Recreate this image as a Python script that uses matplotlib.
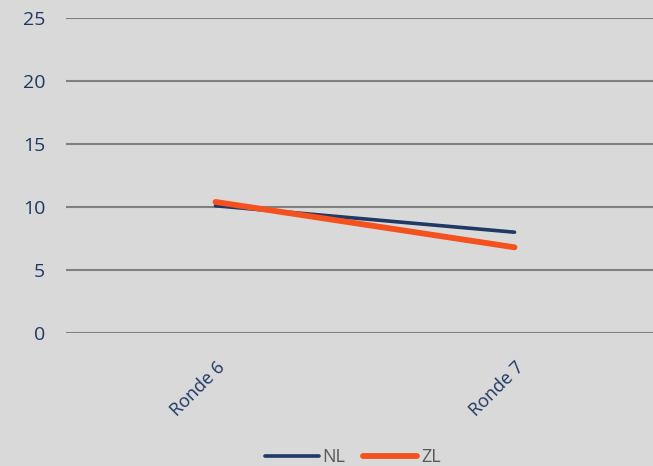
import matplotlib.pyplot as plt

categories = ['Ronde 6', 'Ronde 7']
nl = [10.1, 8.0]
zl = [10.4, 6.8]
yticks = [0, 5, 10, 15, 20, 25]

plt.rcParams['font.family'] = ['Open Sans', 'DejaVu Sans']

bg = '#d9d9d9'
navy = '#1f3864'
orange = '#f4511e'

fig = plt.figure(figsize=(6.53, 4.66), dpi=100, facecolor=bg)
ax = fig.add_axes([66/653, 133/466, 598/653, (333-18)/466])
ax.set_facecolor(bg)

x = range(len(categories))
ax.plot(x, nl, color=navy, lw=2.6, solid_capstyle='round', label='NL', zorder=3)
ax.plot(x, zl, color=orange, lw=4.2, solid_capstyle='round', label='ZL', zorder=4)

ax.set_xlim(-0.5, 1.5)
ax.set_ylim(0, 25)
ax.set_yticks(yticks)
ax.set_xticks(list(x))
ax.set_xticklabels(categories, rotation=45, ha='right', va='top', rotation_mode='anchor')
ax.grid(axis='y', color='#808080', lw=1.5)
ax.set_axisbelow(True)
for s in ax.spines.values():
    s.set_visible(False)
ax.tick_params(axis='y', length=0, pad=15, labelsize=14, labelcolor=navy)
ax.tick_params(axis='x', length=0, pad=18, labelsize=13, labelcolor=navy)

leg = fig.legend(loc='lower center', bbox_to_anchor=(0.54, -0.035), ncol=2, frameon=False,
                 fontsize=13, labelcolor='#595959', handlelength=3, columnspacing=1.0,
                 handletextpad=0.2)

fig.savefig('out.png', dpi=100, facecolor=bg)
